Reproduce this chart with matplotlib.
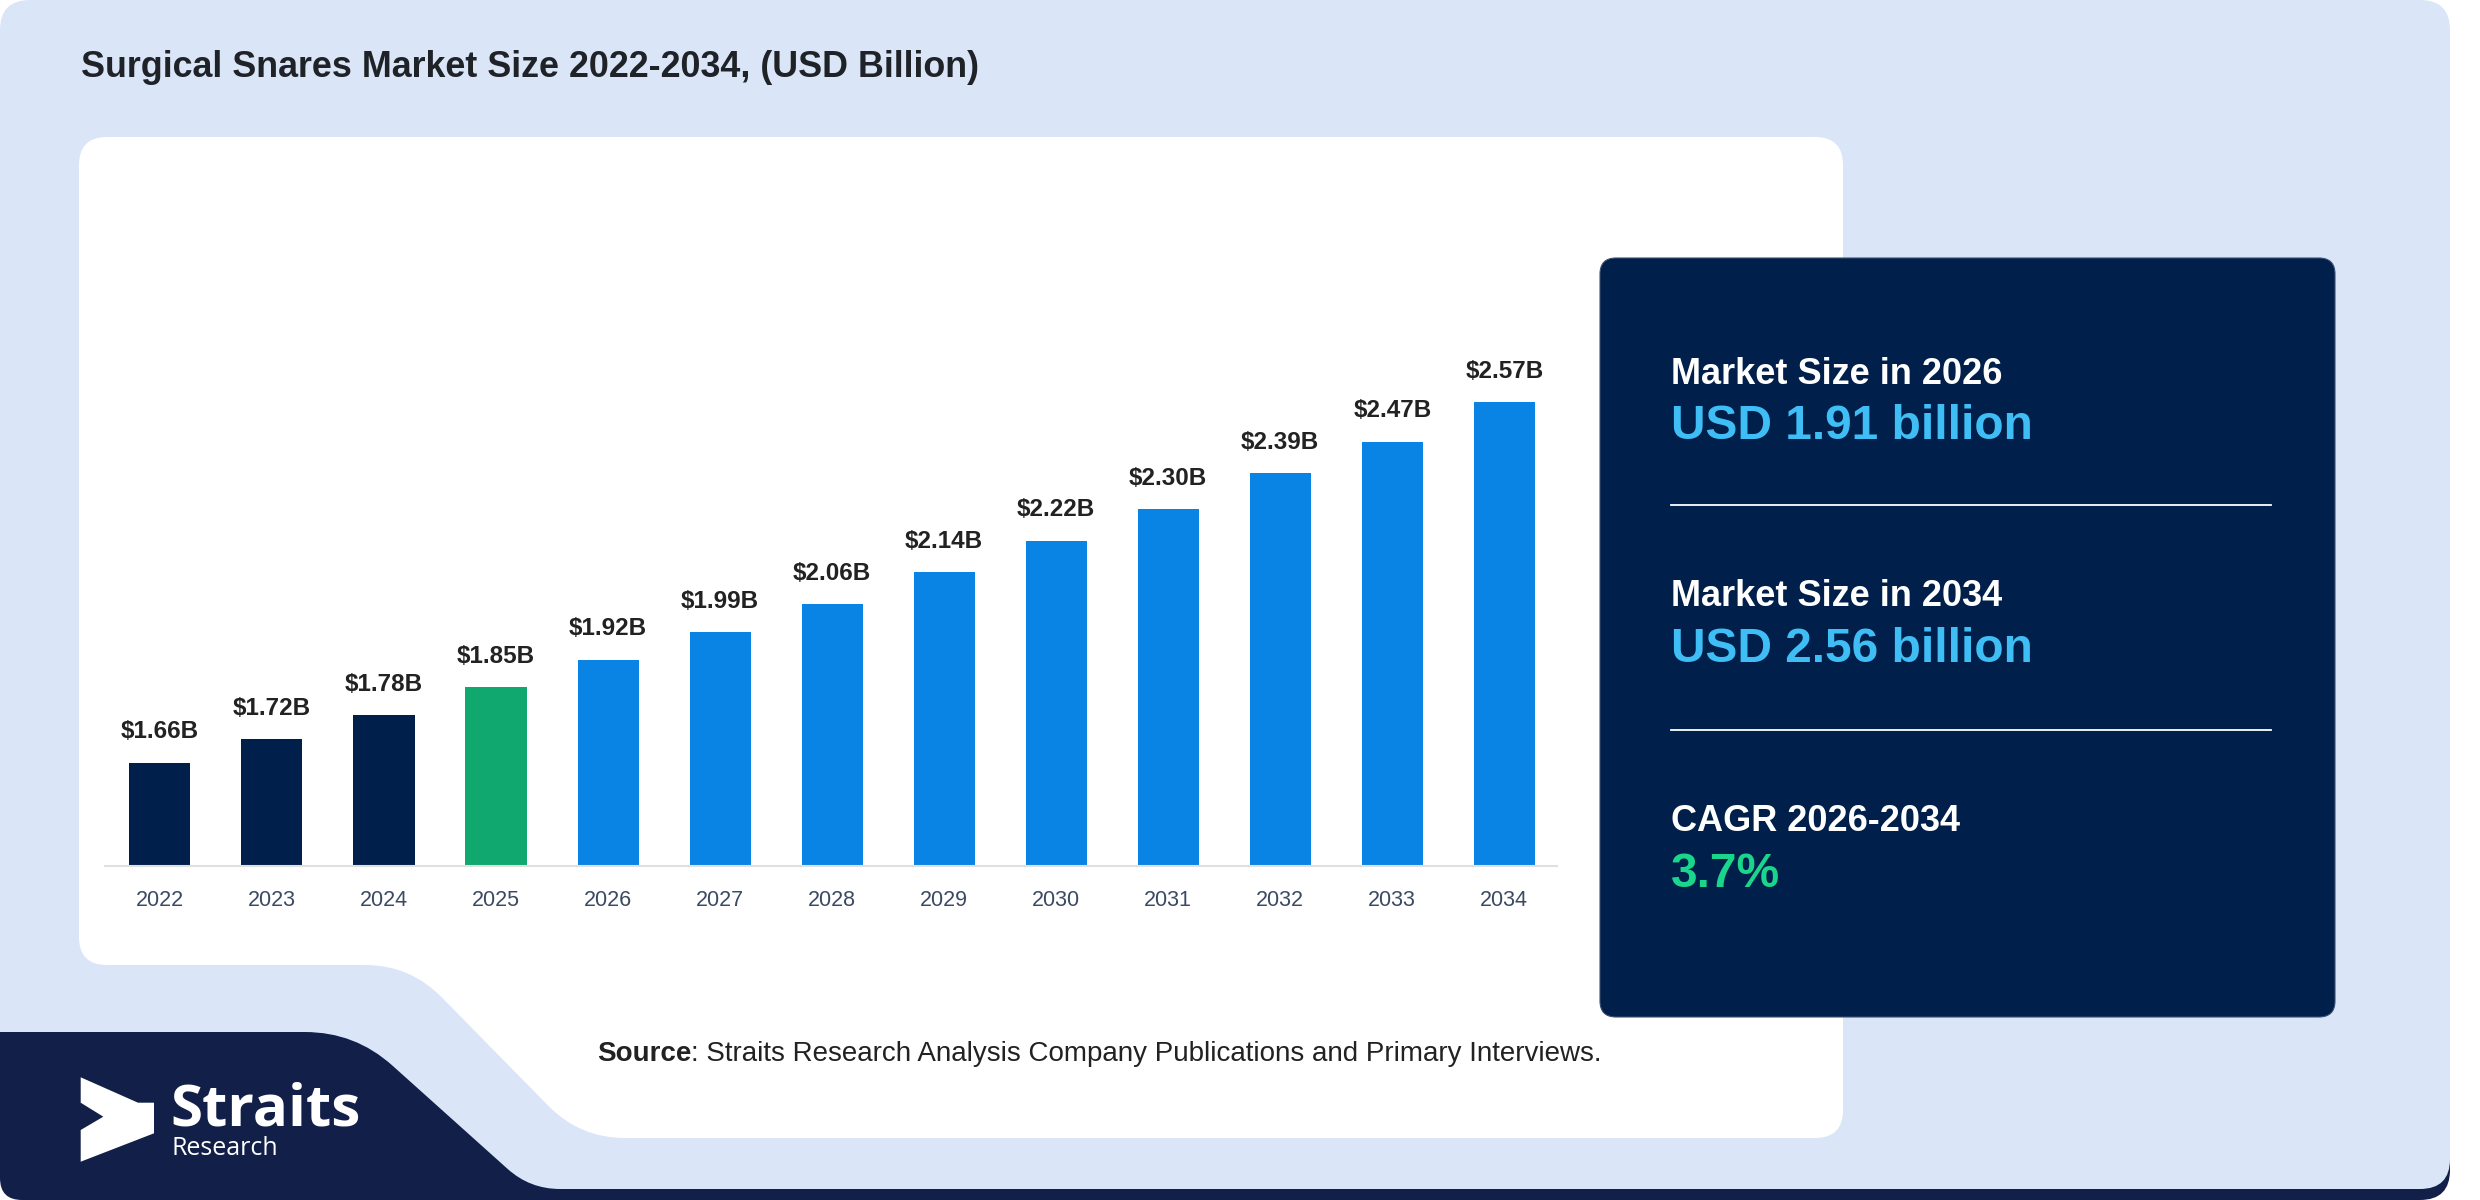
import numpy as np
import matplotlib
matplotlib.use("Agg")
import matplotlib.pyplot as plt
from matplotlib.path import Path
from matplotlib.patches import PathPatch, FancyBboxPatch, Polygon

plt.rcParams['font.family'] = ['Liberation Sans', 'DejaVu Sans']

# data
years = [2022, 2023, 2024, 2025, 2026, 2027, 2028, 2029, 2030, 2031, 2032, 2033, 2034]
values = [1.66, 1.72, 1.78, 1.85, 1.92, 1.99, 2.06, 2.14, 2.22, 2.30, 2.39, 2.47, 2.57]
base_year = 2025
title = "Surgical Snares Market Size 2022-2034, (USD Billion)"
panel_heads = ["Market Size in 2026", "Market Size in 2034", "CAGR 2026-2034"]
panel_vals = ["USD 1.91 billion", "USD 2.56 billion", "3.7%"]

NAVY = "#001f4a"
GREEN = "#10a86f"
BLUE = "#0a84e4"
LIGHT = "#dae6f8"
LOGO = "#121f48"


def rounded_path(pts, radii):
    n = len(pts)
    verts, codes = [], []
    for i in range(n):
        p0 = np.array(pts[i - 1], float)
        p1 = np.array(pts[i], float)
        p2 = np.array(pts[(i + 1) % n], float)
        r = radii[i]
        d1 = (p0 - p1) / np.linalg.norm(p0 - p1)
        d2 = (p2 - p1) / np.linalg.norm(p2 - p1)
        a = p1 + d1 * r
        b = p1 + d2 * r
        verts.append(a)
        codes.append(Path.MOVETO if i == 0 else Path.LINETO)
        verts += [p1, b]
        codes += [Path.CURVE3, Path.CURVE3]
    verts.append(verts[0])
    codes.append(Path.CLOSEPOLY)
    return Path(verts, codes)


fig = plt.figure(figsize=(24.8, 12), dpi=100)
fig.patch.set_facecolor("white")

bg = fig.add_axes([0, 0, 1, 1], zorder=0)
bg.set_xlim(0, 2480)
bg.set_ylim(1200, 0)
bg.axis("off")

# navy strip / logo block underneath
bg.add_patch(PathPatch(rounded_path([(0, 980), (2450, 980), (2450, 1200), (0, 1200)],
                                    [0, 0, 30, 22]), fc=LOGO, ec="none"))
# light blue background
bg.add_patch(PathPatch(rounded_path([(0, 0), (2450, 0), (2450, 1189), (530, 1189),
                                     (355, 1032), (0, 1032)],
                                    [30, 30, 30, 30, 50, 0.1]), fc=LIGHT, ec="none"))
# white card with notch
bg.add_patch(PathPatch(rounded_path([(79, 137), (1843, 137), (1843, 1138), (580, 1138),
                                     (410, 965), (79, 965)],
                                    [28, 28, 28, 45, 45, 28]), fc="white", ec="none"))
# right navy panel
bg.add_patch(FancyBboxPatch((1616, 274), 703, 727, boxstyle="round,pad=16",
                            fc=NAVY, ec="#3b4f74", lw=0.8))

bg.text(81, 77, title, fontsize=25.8, fontweight="bold", color="#1f2328", va="baseline")

# panel text
head_y = [384, 606, 831]
val_y = [439, 662, 887]
val_colors = ["#3fbef5", "#3fbef5", "#19d68c"]
for h, v, hy, vy, c in zip(panel_heads, panel_vals, head_y, val_y, val_colors):
    bg.text(1671, hy, h, fontsize=26, fontweight="bold", color="white", va="baseline")
    bg.text(1671, vy, v, fontsize=34.5, fontweight="bold", color=c, va="baseline")
for y in [505, 730]:
    bg.plot([1671, 2271], [y, y], color="white", lw=1.3)

# source
t1 = bg.text(597, 1061, "Source", fontsize=20, fontweight="bold", color="#222222", va="baseline")
fig.canvas.draw()
r = fig.canvas.get_renderer()
bb = t1.get_window_extent(renderer=r)
bg.text(597 + bb.width, 1061, ": Straits Research Analysis Company Publications and Primary Interviews.",
        fontsize=20, color="#222222", va="baseline")

# logo
icon = [(80.7, 1077.3), (138, 1102.7), (154, 1102.7), (154, 1133.3), (80.7, 1161.7),
        (80.7, 1130), (103.3, 1116.7), (80.7, 1102.7)]
bg.add_patch(Polygon(icon, closed=True, fc="white", ec="none"))
bg.text(170, 1125.7, "Straits", fontsize=42, fontweight="bold", color="white",
        va="baseline", family=["Open Sans", "DejaVu Sans"])
bg.text(171, 1155, "Research", fontsize=18, color="white", va="baseline",
        family=["Open Sans", "DejaVu Sans"])

# bar chart
ax = fig.add_axes([105 / 2480, (1200 - 866) / 1200, (1557 - 105) / 2480, 566 / 1200], zorder=1)
ax.patch.set_alpha(0)
x = np.arange(len(years))
colors = [NAVY if yr < base_year else GREEN if yr == base_year else BLUE for yr in years]
ax.bar(x, values, width=0.545, color=colors, bottom=0)
ax.set_xlim(-0.49, 12.47)
ax.set_ylim(1.3994, 1.3994 + 566 / 396.4)
for xi, v in zip(x, values):
    ax.annotate(f"${v:.2f}B", (xi, v), xytext=(0, 17.5), textcoords="offset points",
                ha="center", va="baseline", fontsize=17.5, fontweight="bold", color="#222222")
ax.set_xticks(x)
ax.set_xticklabels([str(y) for y in years], fontsize=15.5, color="#3b4a63")
ax.tick_params(axis="x", length=0, pad=17)
ax.set_yticks([])
for s in ["top", "right", "left"]:
    ax.spines[s].set_visible(False)
ax.spines["bottom"].set_color("#e0e0e0")
ax.spines["bottom"].set_linewidth(1.5)

fig.savefig("out.png", dpi=100)
